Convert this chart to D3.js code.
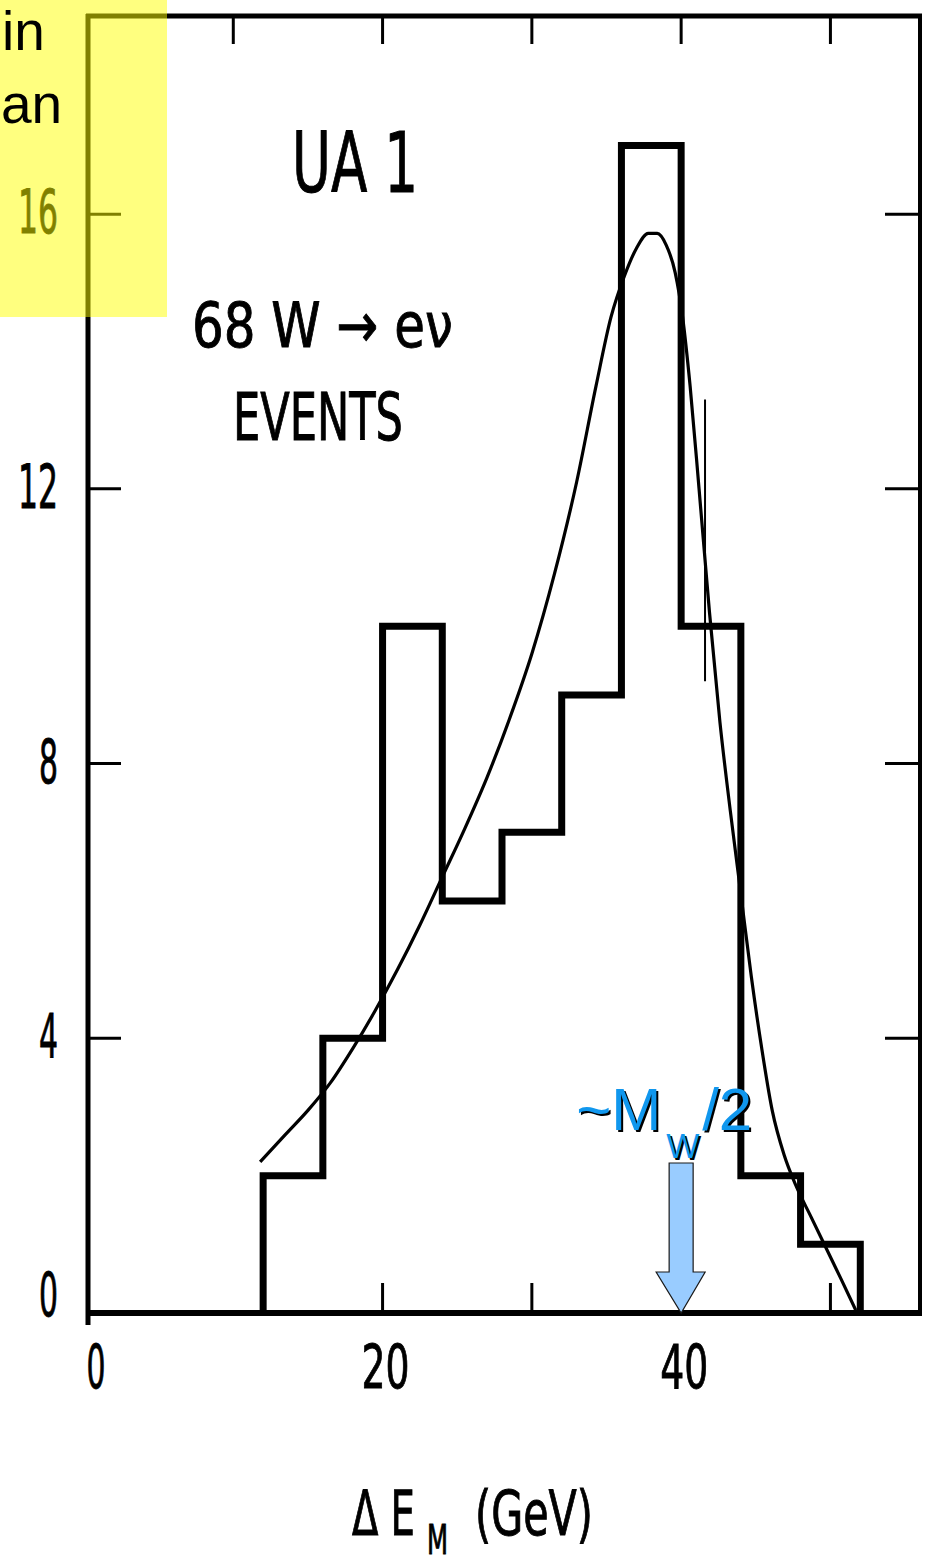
<!DOCTYPE html>
<html>
<head>
<meta charset="utf-8">
<script src="https://cdn.jsdelivr.net/npm/d3@7"></script>
<style>
  html, body { margin: 0; padding: 0; background: #fff; }
  svg { display: block; }
</style>
</head>
<body>
<svg id="chart" width="934" height="1565"></svg>
<script>
// Histogram of transverse energy, 4 GeV bins
const binEdges  = [12, 16, 20, 24, 28, 32, 36, 40, 44, 48, 52];
const binCounts = [2, 4, 10, 6, 7, 9, 17, 10, 2, 1];

// Fitted curve (GeV, events)
const fitE = [11.8, 13.5, 15, 16.5, 18, 19.5, 21, 22.5, 24, 25.5, 27, 28.5, 30, 31.5, 33, 34.3, 35.3, 36.2, 37, 37.8, 38.4, 39, 39.6, 40.1, 40.6, 41.2, 41.9, 42.6, 43.3, 44, 44.7, 45.4, 46.1, 46.9, 47.7, 48.7, 49.7, 50.7, 51.7];
const fitN = [2.2, 2.6, 2.95, 3.35, 3.85, 4.4, 5.0, 5.65, 6.35, 7.05, 7.8, 8.65, 9.6, 10.75, 12.1, 13.5, 14.5, 15.1, 15.5, 15.72, 15.72, 15.55, 15.15, 14.5, 13.5, 12.0, 10.2, 8.6, 7.3, 6.1, 4.9, 3.85, 2.95, 2.3, 1.85, 1.4, 0.95, 0.5, 0.04];

// Single error bar drawn on the 40-44 bin
const errE = [41.6];
const errLo = [9.2];
const errHi = [13.3];

const yTicks = [0, 4, 8, 12, 16];
const yTickLabels = ["0", "4", "8", "12", "16"];
const xFrameTicks = [10, 20, 30, 40, 50];
const xBottomTicks = [20, 30, 40, 50];
const xTickLabels = [0, 20, 40];

const markerE = 40;   // ~ M_W / 2

const svg = d3.select("#chart");
const frame = { left: 88, right: 920, top: 16, bottom: 1313 };

const x = d3.scaleLinear().domain([0, 56]).range([84, 920]);
const y = d3.scaleLinear().domain([0, 18.9]).range([1313, 15]);

const ink = "#000";
const narrow = "'Liberation Sans Narrow', 'DejaVu Sans Condensed', sans-serif";
const sans = "'Liberation Sans', Arial, sans-serif";

// ---- frame ----
const g = svg.append("g");
g.append("line").attr("x1", frame.left).attr("x2", frame.left)
  .attr("y1", frame.top - 2).attr("y2", frame.bottom + 12)
  .attr("stroke", ink).attr("stroke-width", 5);
g.append("line").attr("x1", frame.left - 2).attr("x2", frame.right + 2)
  .attr("y1", frame.top).attr("y2", frame.top)
  .attr("stroke", ink).attr("stroke-width", 5);
g.append("line").attr("x1", frame.right).attr("x2", frame.right)
  .attr("y1", frame.top).attr("y2", frame.bottom + 2)
  .attr("stroke", ink).attr("stroke-width", 4);
g.append("line").attr("x1", frame.left - 2).attr("x2", frame.right + 2)
  .attr("y1", frame.bottom).attr("y2", frame.bottom)
  .attr("stroke", ink).attr("stroke-width", 6);

// left and right ticks point inward
yTicks.filter(v => v > 0).forEach(v => {
  g.append("line").attr("x1", frame.left).attr("x2", frame.left + 33)
    .attr("y1", y(v)).attr("y2", y(v)).attr("stroke", ink).attr("stroke-width", 3);
  g.append("line").attr("x1", frame.right - 35).attr("x2", frame.right)
    .attr("y1", y(v)).attr("y2", y(v)).attr("stroke", ink).attr("stroke-width", 3);
});
// top ticks (downward)
xFrameTicks.forEach(v => {
  g.append("line").attr("x1", x(v)).attr("x2", x(v))
    .attr("y1", frame.top).attr("y2", frame.top + 28)
    .attr("stroke", ink).attr("stroke-width", 3);
});
// bottom ticks (upward)
xBottomTicks.forEach(v => {
  g.append("line").attr("x1", x(v)).attr("x2", x(v))
    .attr("y1", frame.bottom).attr("y2", frame.bottom - 30)
    .attr("stroke", ink).attr("stroke-width", 3);
});

// Drafted lettering: condensed face squeezed horizontally to a set width.
// anchor: "start" | "middle" | "end" relative to x0
function letter(str, x0, yb, size, width, anchor = "start") {
  const t = svg.append("text")
    .attr("font-family", narrow).attr("font-size", size)
    .attr("fill", ink).attr("stroke", ink).attr("stroke-width", 0.9)
    .text(str);
  const natural = t.node().getComputedTextLength();
  const sx = width / natural;
  const left = anchor === "end" ? x0 - width : anchor === "middle" ? x0 - width / 2 : x0;
  t.attr("transform", `translate(${left},${yb}) scale(${sx},1)`);
  return t;
}

// ---- tick labels ----
yTicks.forEach((v, i) => {
  const lbl = yTickLabels[i];
  const cy = Math.min(y(v), y(0) - 16);
  letter(lbl, 58, cy + 19, 60, lbl.length > 1 ? 40 : 19, "end");
});
xTickLabels.forEach(v => {
  const lbl = String(v);
  letter(lbl, x(v) + (v === 0 ? 12 : 3), 1388, 60, lbl.length > 1 ? 48 : 19, "middle");
});

// ---- histogram outline ----
const histPts = [[binEdges[0], 0]];
binCounts.forEach((c, i) => {
  histPts.push([binEdges[i], c]);
  histPts.push([binEdges[i + 1], c]);
});
histPts.push([binEdges[binEdges.length - 1], 0]);
svg.append("path")
  .attr("d", d3.line().x(d => x(d[0])).y(d => y(d[1]))(histPts))
  .attr("fill", "none").attr("stroke", ink)
  .attr("stroke-width", 7).attr("stroke-linejoin", "miter");

// ---- fitted curve ----
const fitPts = fitE.map((e, i) => [e, fitN[i]]);
svg.append("path")
  .attr("d", d3.line().x(d => x(d[0])).y(d => y(d[1])).curve(d3.curveMonotoneX)(fitPts))
  .attr("fill", "none").attr("stroke", ink).attr("stroke-width", 3.2);

// ---- error bar ----
errE.forEach((e, i) => {
  svg.append("line").attr("x1", x(e)).attr("x2", x(e))
    .attr("y1", y(errHi[i])).attr("y2", y(errLo[i]))
    .attr("stroke", ink).attr("stroke-width", 2);
});

// ---- in-plot labels ----
letter("UA 1", 292, 192, 84, 126);
letter("68  W \u2192 e\u03BD", 192, 347, 63, 261);
letter("EVENTS", 233, 440, 65, 170);

// axis title: ΔE with subscript M, then unit
letter("\u0394 E", 352, 1535, 63, 63);
letter("M", 427, 1554, 40, 21);
letter("(GeV)", 475, 1535, 63, 118);

// ---- marker arrow at M_W/2 ----
const ax = x(markerE);
const arrowTop = 1163, headTop = 1272, tipY = y(0);
const arrowPts = [
  [ax - 12, arrowTop], [ax + 12, arrowTop], [ax + 12, headTop], [ax + 24, headTop],
  [ax, tipY], [ax - 25, headTop], [ax - 12, headTop]
];
svg.append("path")
  .attr("d", d3.line()(arrowPts) + "Z")
  .attr("fill", "#99ccff").attr("stroke", "#1a1a1a").attr("stroke-width", 1.2);

const blue = "#1097ee";
function annot(dx, dy, fill) {
  const t = svg.append("text").attr("transform", `translate(${dx},${dy})`)
    .attr("font-family", sans).attr("fill", fill);
  t.append("tspan").attr("x", ax - 105).attr("y", 1130).attr("font-size", 60).text("~M");
  t.append("tspan").attr("x", ax - 15).attr("y", 1158).attr("font-size", 35).text("W");
  t.append("tspan").attr("x", ax + 21).attr("y", 1130).attr("font-size", 60).text("/2");
}
annot(2, 2, "#000");
annot(0, 0, blue);

// ---- highlight box with caption ending ----
svg.append("rect").attr("x", 0).attr("y", 0).attr("width", 167).attr("height", 317)
  .attr("fill", "rgba(255,255,0,0.5)");
svg.append("text").attr("x", 2).attr("y", 50)
  .attr("font-family", sans).attr("font-size", 55)
  .attr("fill", "#000").text("in");
svg.append("text").attr("x", 1).attr("y", 123)
  .attr("font-family", sans).attr("font-size", 55)
  .attr("fill", "#000").text("an");
</script>
</body>
</html>
